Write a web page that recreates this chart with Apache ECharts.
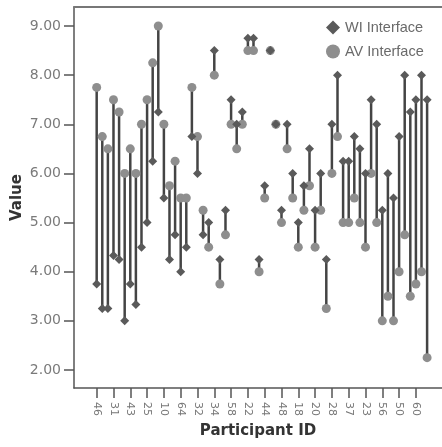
<!DOCTYPE html>
<html>
<head>
<meta charset="utf-8">
<script src="https://cdn.jsdelivr.net/npm/echarts@6/dist/echarts.min.js"></script>
<style>
html, body { margin: 0; padding: 0; background: #fff; }
#chart { width: 442px; height: 447px; }
</style>
</head>
<body>
<div id="chart"></div>
<script>
// participant id shown under every third position
const tickLabels = ['46', '31', '43', '25', '10', '64', '32', '34', '58', '22',
    '44', '48', '18', '20', '28', '37', '23', '56', '50', '60'];
const yTicks = [2, 3, 4, 5, 6, 7, 8, 9];

const wiValues = [3.75, 3.25, 3.25, 4.33, 4.25, 3.0, 3.75, 3.33, 4.5, 5.0,
    6.25, 7.25, 5.5, 4.25, 4.75, 4.0, 4.5, 6.75, 6.0, 4.75,
    5.0, 8.5, 4.25, 5.25, 7.5, 7.0, 7.25, 8.75, 8.75, 4.25,
    5.75, 8.5, 7.0, 5.25, 7.0, 6.0, 5.0, 5.75, 6.5, 5.25,
    6.0, 4.25, 7.0, 8.0, 6.25, 6.25, 6.75, 6.5, 6.0, 7.5,
    7.0, 5.25, 6.0, 5.5, 6.75, 8.0, 7.25, 7.5, 8.0, 7.5];
const avValues = [7.75, 6.75, 6.5, 7.5, 7.25, 6.0, 6.5, 6.0, 7.0, 7.5,
    8.25, 9.0, 7.0, 5.75, 6.25, 5.5, 5.5, 7.75, 6.75, 5.25,
    4.5, 8.0, 3.75, 4.75, 7.0, 6.5, 7.0, 8.5, 8.5, 4.0,
    5.5, 8.5, 7.0, 5.0, 6.5, 5.5, 4.5, 5.25, 5.75, 4.5,
    5.25, 3.25, 6.0, 6.75, 5.0, 5.0, 5.5, 5.0, 4.5, 6.0,
    5.0, 3.0, 3.5, 3.0, 4.0, 4.75, 3.5, 3.75, 4.0, 2.25];

const chart = echarts.init(document.getElementById('chart'));

const tickPositions = tickLabels.map((_, i) => i * 3);
const pairs = wiValues.map((v, i) => [i, v, avValues[i]]);
const xMin = -4.05, xMax = 61.66;
const textFont = 'DejaVu Sans';

const option = {
    animation: false,
    grid: { left: 74, right: 0, top: 7, bottom: 59, outerBoundsMode: 'none', containLabel: false },
    legend: {
        orient: 'vertical',
        left: 321,
        top: 15,
        itemWidth: 14,
        itemHeight: 14,
        itemGap: 9,
        data: [
            { name: 'WI Interface', icon: 'diamond' },
            { name: 'AV Interface', icon: 'circle' }
        ],
        textStyle: { color: '#6a6a6a', fontSize: 14.5, fontFamily: 'Liberation Sans' }
    },
    xAxis: [
        {
            type: 'value',
            min: xMin,
            max: xMax,
            name: 'Participant ID',
            nameLocation: 'middle',
            nameGap: 36,
            nameMoveOverlap: false,
            nameTextStyle: { color: '#333', fontSize: 15, fontWeight: 'bold', fontFamily: textFont },
            splitLine: { show: false },
            axisLine: { onZero: false, lineStyle: { color: '#555', width: 1.5 } },
            axisTick: { customValues: tickPositions, length: 10, lineStyle: { color: '#555', width: 1.5 } },
            axisLabel: {
                customValues: tickPositions,
                rotate: -90,
                margin: 14,
                color: '#777',
                fontSize: 11,
                fontFamily: textFont,
                formatter: v => tickLabels[Math.round(v / 3)]
            }
        },
        {
            type: 'value',
            position: 'top',
            min: xMin,
            max: xMax,
            splitLine: { show: false },
            axisLine: { show: true, onZero: false, lineStyle: { color: '#777', width: 2 } },
            axisTick: { show: false },
            axisLabel: { show: false }
        }
    ],
    yAxis: {
        type: 'value',
        min: 1.633,
        max: 9.387,
        name: 'Value',
        nameLocation: 'middle',
        nameGap: 49,
        nameMoveOverlap: false,
        nameTextStyle: { color: '#333', fontSize: 15, fontWeight: 'bold', fontFamily: textFont },
        splitLine: { show: false },
        axisLine: { show: true, onZero: false, lineStyle: { color: '#555', width: 1.5 } },
        axisTick: { show: true, customValues: yTicks, length: 10, lineStyle: { color: '#555', width: 1.5 } },
        axisLabel: {
            customValues: yTicks,
            margin: 13,
            color: '#7a7a7a',
            fontSize: 14,
            fontFamily: textFont,
            formatter: v => v.toFixed(2)
        }
    },
    series: [
        {
            type: 'custom',
            name: 'range',
            data: pairs,
            renderItem: function (params, api) {
                const x = api.value(0);
                const p1 = api.coord([x, api.value(1)]);
                const p2 = api.coord([x, api.value(2)]);
                return {
                    type: 'line',
                    shape: { x1: p1[0], y1: p1[1], x2: p2[0], y2: p2[1] },
                    style: { stroke: '#444', lineWidth: 2.5 }
                };
            },
            z: 1
        },
        {
            name: 'AV Interface',
            type: 'scatter',
            symbol: 'circle',
            symbolSize: 9,
            itemStyle: { color: '#8e8e8e', opacity: 1 },
            data: avValues.map((v, i) => [i, v]),
            z: 2
        },
        {
            name: 'WI Interface',
            type: 'scatter',
            symbol: 'diamond',
            symbolSize: 9,
            itemStyle: { color: '#5a5a5a', opacity: 1 },
            data: wiValues.map((v, i) => [i, v]),
            z: 3
        }
    ]
};

chart.setOption(option);
</script>
</body>
</html>
